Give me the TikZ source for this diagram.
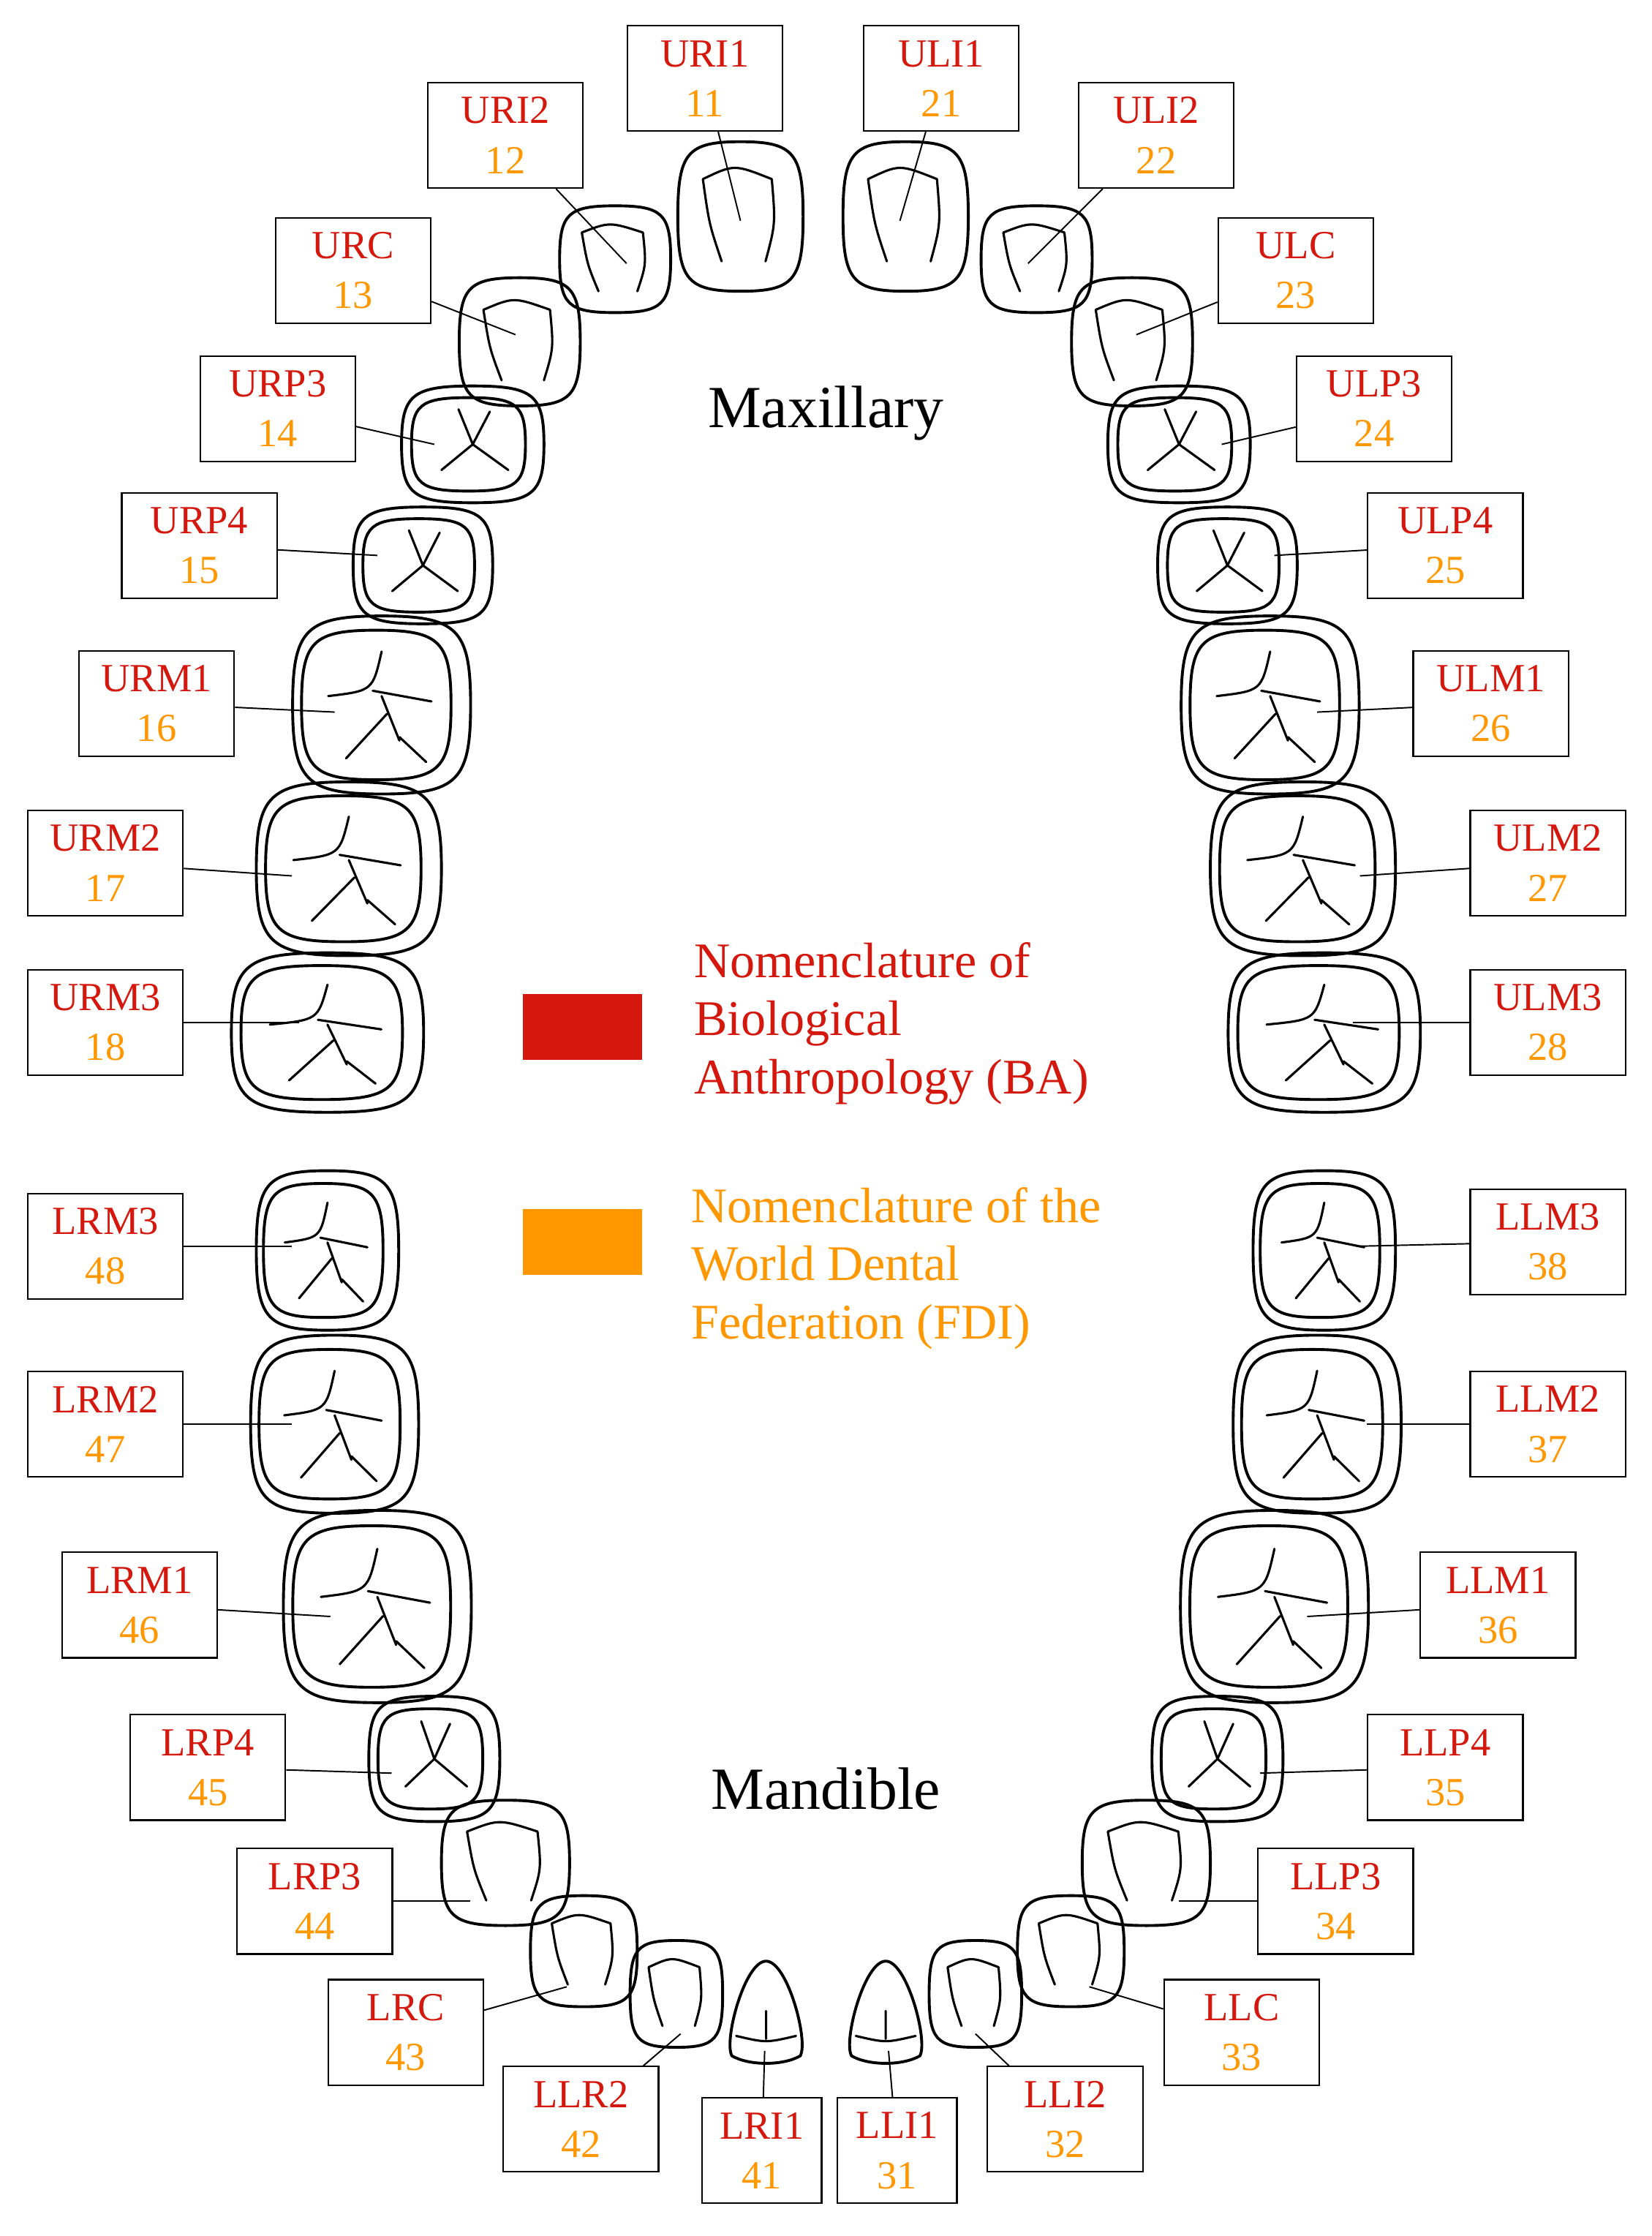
\documentclass[tikz,border=0pt]{standalone}
\usepackage{fontspec}
\setmainfont{Liberation Serif}
\usetikzlibrary{calc}
\definecolor{bared}{RGB}{212,24,14}
\definecolor{fdior}{RGB}{255,152,0}
\tikzset{
 lab/.style={draw,line width=1.1pt,fill=white,minimum width=109pt,minimum height=74pt,inner sep=0pt,align=center,font=\fontsize{28}{33}\selectfont},
 th/.style={line width=2pt},
 fis/.style={line width=1.6pt,line cap=round},
 lead/.style={line width=1pt}
}
\newcommand\blob[1]{(-#1,0) .. controls (-#1,{-0.85*#1}) and ({-0.85*#1},-#1) .. (0,-#1) .. controls ({0.85*#1},-#1) and (#1,{-0.85*#1}) .. (#1,0) .. controls (#1,{0.85*#1}) and ({0.85*#1},#1) .. (0,#1) .. controls ({-0.85*#1},#1) and (-#1,{0.85*#1}) .. cycle}
\newcommand\molar{%
 \draw[th] \blob{50};
 \draw[th,shift={(-3,0)}] \blob{42};
 \draw[fis] (-30,-5) .. controls (-5,-8) .. (0,-30) (0,-5) -- (10,20) (-5,-8) -- (28,-2) (3,5) -- (-20,30) (10,18) -- (25,32);}
\newcommand\premolar{%
 \draw[th] \blob{50};
 \draw[th,shift={(-3,0)}] \blob{40};
 \draw[fis] (-10,-30) -- (0,0) -- (-22,22) (0,0) -- (25,22) (0,0) -- (12,-28);}
\newcommand\ant{%
 \draw[th] \blob{50};
 \draw[fis] (-30,-25) .. controls (-5,-35) .. (25,-25) (-30,-25) .. controls (-25,5) .. (-15,30) (25,-25) .. controls (28,5) .. (20,30);}
\newcommand\low{%
 \draw[th] (0,-50) .. controls (25,-50) and (50,30) .. (40,45) .. controls (20,55) and (-20,55) .. (-40,45) .. controls (-50,30) and (-25,-50) .. (0,-50);
 \draw[fis] (-35,25) .. controls (0,32) .. (35,25) (0,28) -- (0,0);}
\begin{document}
\begin{tikzpicture}[x=1pt,y=-1pt]
\useasboundingbox[fill=white] (0,0) rectangle (1160,1570);
\foreach \x/\y/\w/\h/\t in {
520/152/88/105/ant, 636/152/88/105/ant,
432/182/78/75/ant, 728/182/78/75/ant,
365/240/85/90/ant, 795/240/85/90/ant,
332/312/100/82/premolar, 828/312/100/82/premolar,
297/397/98/82/premolar, 862/397/98/82/premolar,
268/495/125/125/molar, 892/495/125/125/molar,
245/610/130/122/molar, 915/610/130/122/molar,
230/725/135/112/molar, 930/725/135/112/molar,
230/878/100/112/molar, 930/878/100/112/molar,
235/1000/118/125/molar, 925/1000/118/125/molar,
265/1128/132/135/molar, 895/1128/132/135/molar,
305/1235/92/88/premolar, 855/1235/92/88/premolar,
355/1308/90/88/ant, 805/1308/90/88/ant,
410/1370/75/78/ant, 752/1370/75/78/ant,
475/1400/65/75/ant, 685/1400/65/75/ant,
538/1412/60/70/low, 622/1412/60/70/low}{
 \begin{scope}[shift={(\x,\y)},xscale=\w/100,yscale=\h/100]\csname\t\endcsname\end{scope}}
\foreach \bx/\by/\ba/\fd/\tx/\ty/\bw in {
495/55/URI1/11/520/155/109, 661/55/ULI1/21/632/155/109,
355/95/URI2/12/440/185/109, 812/95/ULI2/22/722/185/109,
248/190/URC/13/362/235/109, 910/190/ULC/23/798/235/109,
195/287/URP3/14/305/312/109, 965/287/ULP3/24/858/312/109,
140/383/URP4/15/265/390/109, 1015/383/ULP4/25/895/390/109,
110/494/URM1/16/235/500/109, 1047/494/ULM1/26/925/500/109,
74/606/URM2/17/205/615/109, 1087/606/ULM2/27/955/615/109,
74/718/URM3/18/210/718/109, 1087/718/ULM3/28/950/718/109,
74/875/LRM3/48/205/875/109, 1087/872/LLM3/38/955/875/109,
74/1000/LRM2/47/205/1000/109, 1087/1000/LLM2/37/960/1000/109,
98/1127/LRM1/46/232/1135/109, 1052/1127/LLM1/36/918/1135/109,
146/1241/LRP4/45/275/1245/109, 1015/1241/LLP4/35/885/1245/109,
221/1335/LRP3/44/330/1335/109, 938/1335/LLP3/34/828/1335/109,
285/1427/LRC/43/398/1395/109, 872/1427/LLC/33/765/1395/109,
408/1488/LLR2/42/478/1428/109, 748/1488/LLI2/32/685/1428/109,
535/1510/LRI1/41/537/1440/84, 630/1510/LLI1/31/624/1440/84}{
 \coordinate (t\fd) at (\tx,\ty);
 \node[lab,minimum width=\bw pt] (b\fd) at (\bx,\by) {\textcolor{bared}{\ba}\\[2pt]\textcolor{fdior}{\fd}};
 \draw[lead] (b\fd) -- (t\fd);
}
\node[font=\fontsize{42}{46}\selectfont] (max) at (580,290) {Maxillary};
\node[font=\fontsize{42}{46}\selectfont] (man) at (580,1256) {Mandible};
\node[fill=bared,minimum width=84pt,minimum height=46pt,inner sep=0] (r1) at (409,721) {};
\node[fill=fdior,minimum width=84pt,minimum height=46pt,inner sep=0] (r2) at (409,872) {};
\node[anchor=north west,align=left,text=bared,font=\fontsize{35}{41}\selectfont] (t1) at (484,658) {Nomenclature of\\Biological\\Anthropology (BA)};
\node[anchor=north west,align=left,text=fdior,font=\fontsize{35}{41}\selectfont] (t2) at (482,830) {Nomenclature of the\\World Dental\\Federation (FDI)};
\end{tikzpicture}
\end{document}
